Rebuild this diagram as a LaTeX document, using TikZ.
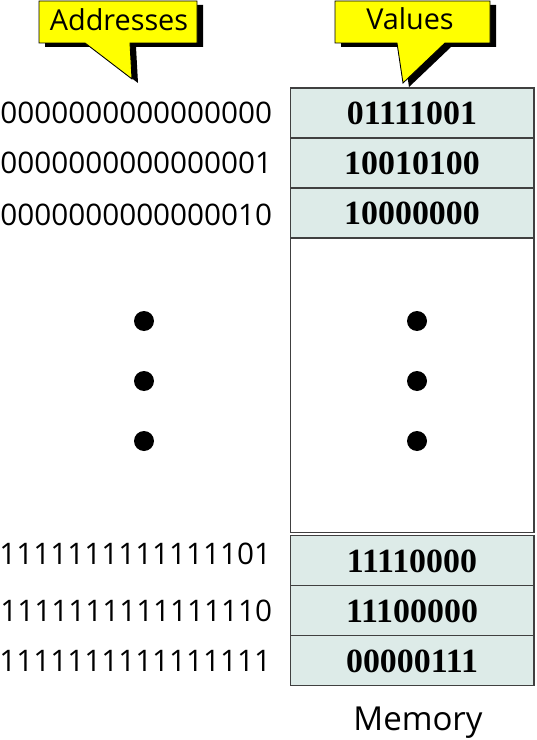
\documentclass[tikz,border=0pt]{standalone}
\usepackage{fontspec}
\setmainfont{Open Sans}
\newfontfamily\valfont{Liberation Serif}
\usetikzlibrary{positioning}
\definecolor{cellfill}{RGB}{221,235,232}
\definecolor{callyellow}{RGB}{255,255,0}
\tikzset{every node/.style={inner sep=0pt, outer sep=0pt}, % Text boxes fit the text tightly
      cell/.style={ % One memory word
      draw=black!75, line width=0.6pt, fill=cellfill,
      minimum width=4.88cm, minimum height=1cm,
      font=\valfont\bfseries\fontsize{19.3}{21}\selectfont},
      gapbox/.style={draw=black!75, line width=0.6pt, fill=white,
      minimum width=4.88cm, minimum height=5.9cm},
      addr/.style={font=\fontsize{16.9}{18}\selectfont},
      bigdot/.style={circle, fill=black, minimum size=0.4cm},
      callout/.style={fill=callyellow, draw=black, line width=0.5pt},
      callshadow/.style={fill=black, shift={(6,4)}},
      calltext/.style={font=\fontsize{16.4}{18}\selectfont}}

\def\addrcall{(39,1) -- (197,1) -- (197,43) -- (130,43) -- (132,79) -- (85,43) -- (39,43) -- cycle}
\def\valcall{(335,1) -- (490,1) -- (490,43) -- (445,43) -- (403,83) -- (397,43) -- (335,43) -- cycle}

\begin{document}
\begin{tikzpicture}[x=0.02cm, y=-0.02cm]
      \useasboundingbox (0,0) rectangle (537,740);
      % callouts
      \fill[callshadow] \addrcall;
      \draw[callout] \addrcall;
      \node[calltext] (taddr) at (119,20) {Addresses};
      \fill[callshadow] \valcall;
      \draw[callout] \valcall;
      \node[calltext] (tval) at (410,19) {Values};
      % memory column
      \node[cell] (c1) at (412,113) {01111001};
      \node[cell, below=0pt of c1] (c2) {10010100};
      \node[cell, below=0pt of c2] (c3) {10000000};
      \node[gapbox, below=0pt of c3] (mid) {};
      \node[cell, below=0.06cm of mid] (c4) {11110000};
      \node[cell, below=0pt of c4] (c5) {11100000};
      \node[cell, below=0pt of c5] (c6) {00000111};
      \node[font=\fontsize{18.8}{20}\selectfont, below=0.42cm of c6, xshift=0.12cm] (mem) {Memory};
      % addresses
      \node[addr, left=0.36cm of c1] (a1) {0000000000000000};
      \node[addr, left=0.36cm of c2] (a2) {0000000000000001};
      \node[addr, left=0.36cm of c3, yshift=-0.04cm] (a3) {0000000000000010};
      \node[addr, left=0.38cm of c4, yshift=0.14cm] (a4) {1111111111111101};
      \node[addr, left=0.36cm of c5] (a5) {1111111111111110};
      \node[addr, left=0.38cm of c6] (a6) {1111111111111111};
      % dots
      \foreach \i/\y in {1/321, 2/381, 3/441} {
            \node[bigdot] (dl\i) at (144,\y) {};
            \node[bigdot] (dr\i) at (417,\y) {};
      }
\end{tikzpicture}
\end{document}
